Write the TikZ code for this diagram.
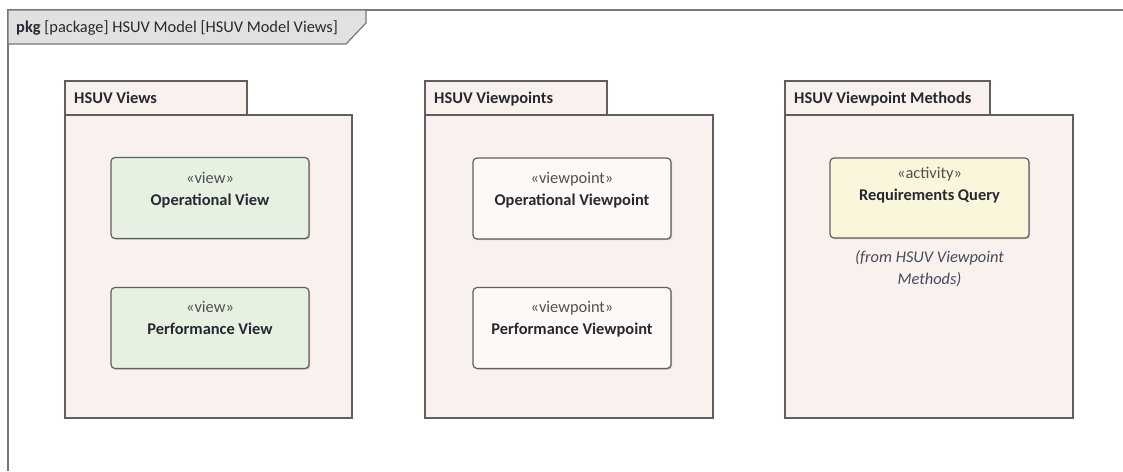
\documentclass[tikz,border=0pt]{standalone}
\usepackage{fontspec}
\setmainfont{Carlito}
\usetikzlibrary{shadows}
\definecolor{pkgfill}{RGB}{249,241,238}
\definecolor{viewfill}{RGB}{230,241,226}
\definecolor{vpfill}{RGB}{254,249,247}
\definecolor{actfill}{RGB}{250,246,219}
\definecolor{hdrfill}{RGB}{225,225,225}
\definecolor{bordergray}{RGB}{95,95,95}
\definecolor{framegray}{RGB}{120,120,120}
\definecolor{txt}{RGB}{40,40,48}
\definecolor{stereo}{RGB}{80,80,80}
\definecolor{fromtxt}{RGB}{70,76,92}
\tikzset{
  pkgshape/.style={draw=bordergray, line width=1.2pt, fill=pkgfill, inner sep=0pt,
    drop shadow={shadow xshift=1.3pt, shadow yshift=-1.3pt, fill=black, opacity=0.25}},
  elem/.style={draw=bordergray, line width=1.2pt, rounded corners=4pt, inner sep=0pt,
    minimum width=198pt, minimum height=81pt,
    drop shadow={shadow xshift=1.2pt, shadow yshift=-1.2pt, fill=black, opacity=0.2}},
  pkglabel/.style={anchor=base west, inner sep=0pt, font=\fontsize{16.4}{19}\selectfont\bfseries, text=txt},
  stlabel/.style={anchor=base, inner sep=0pt, font=\fontsize{16.4}{19}\selectfont, text=stereo},
  namelabel/.style={anchor=base, inner sep=0pt, font=\fontsize{16.4}{19}\selectfont\bfseries, text=txt},
  fromlabel/.style={anchor=base, inner sep=0pt, font=\fontsize{16.4}{19}\selectfont\itshape, text=fromtxt},
}
\begin{document}
\begin{tikzpicture}[x=1pt,y=-1pt]
\useasboundingbox (0,0) rectangle (1123,471);
\fill[white] (0,0) rectangle (1123,471);
% diagram frame
\draw[framegray, line width=1.8pt] (1123,10) -- (8,10) -- (8,471);
\draw[framegray, line width=1.2pt, fill=hdrfill] (8,10) -- (366,10) -- (366,23) -- (346,44) -- (8,44) -- cycle;
\node[anchor=base west, inner sep=0pt, font=\fontsize{16.4}{19}\selectfont, text=txt] (title) at (16,32)
  {\textbf{pkg} [package] HSUV Model [HSUV Model Views]};

% package 1
\node[pkgshape, minimum width=287pt, minimum height=303pt] (p1body) at (208.5,266.5) {};
\node[pkgshape, minimum width=182pt, minimum height=34pt] (p1tab) at (156,98) {};
\node[pkglabel] (p1label) at (74,103) {HSUV Views};

% package 2
\node[pkgshape, minimum width=288pt, minimum height=303pt] (p2body) at (569,266.5) {};
\node[pkgshape, minimum width=182pt, minimum height=34pt] (p2tab) at (516,98) {};
\node[pkglabel] (p2label) at (434,103) {HSUV Viewpoints};

% package 3
\node[pkgshape, minimum width=288pt, minimum height=303pt] (p3body) at (929,266.5) {};
\node[pkgshape, minimum width=205pt, minimum height=34pt] (p3tab) at (887.5,98) {};
\node[pkglabel] (p3label) at (794,103) {HSUV Viewpoint Methods};

% views
\node[elem, fill=viewfill] (opv) at (210,198) {};
\node[stlabel] (opvst) at (210,183) {«view»};
\node[namelabel] (opvname) at (210,205) {Operational View};
\node[elem, fill=viewfill] (pfv) at (210,328) {};
\node[stlabel] (pfvst) at (210,312) {«view»};
\node[namelabel] (pfvname) at (210,334) {Performance View};

% viewpoints
\node[elem, fill=vpfill] (opvp) at (572,198.5) {};
\node[stlabel] (opvpst) at (572,183) {«viewpoint»};
\node[namelabel] (opvpname) at (572,205) {Operational Viewpoint};
\node[elem, fill=vpfill] (pfvp) at (572,328) {};
\node[stlabel] (pfvpst) at (572,312) {«viewpoint»};
\node[namelabel] (pfvpname) at (572,334) {Performance Viewpoint};

% activity
\node[elem, fill=actfill, minimum width=199pt, minimum height=80pt] (req) at (929.5,198) {};
\node[stlabel] (reqst) at (929.5,178) {«activity»};
\node[namelabel] (reqname) at (929.5,200) {Requirements Query};
\node[fromlabel] (reqfrom1) at (929.5,262) {(from HSUV Viewpoint};
\node[fromlabel] (reqfrom2) at (929.5,284) {Methods)};
\end{tikzpicture}
\end{document}
